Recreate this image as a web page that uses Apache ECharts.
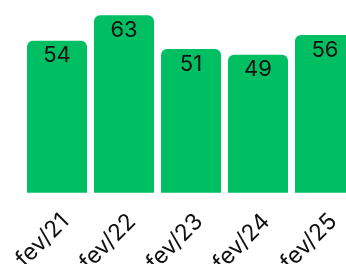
<!DOCTYPE html>
<html>
<head>
    <meta charset="utf-8">
    <script src="https://cdn.jsdelivr.net/npm/echarts@6/dist/echarts.min.js"></script>
    <style>
        html, body { margin: 0; padding: 0; background: #fff; }
        #chart { width: 346px; height: 264px; }
    </style>
</head>
<body>
<div id="chart"></div>
<script>
    // dados
    var categorias = ['fev/21', 'fev/22', 'fev/23', 'fev/24', 'fev/25'];
    var valores = [54, 63, 51, 49, 56];

    var chart = echarts.init(document.getElementById('chart'));
    var option = {
        animation: false,
        // a grade passa da borda direita: a última barra fica cortada
        grid: { left: 23.5, width: 335, top: 15.3, bottom: 71.3, outerBoundsMode: 'none' },
        xAxis: {
            type: 'category',
            data: categorias,
            axisLine: { show: false },
            axisTick: { show: false },
            axisLabel: {
                rotate: 45,
                margin: 17,
                verticalAlign: 'top',
                fontSize: 23,
                fontFamily: 'Inter',
                color: '#111'
            }
        },
        yAxis: {
            type: 'value',
            min: 0,
            max: 'dataMax',
            show: false
        },
        series: [{
            type: 'bar',
            data: valores,
            barWidth: 60,
            itemStyle: { color: '#00BF63', borderRadius: [6, 6, 0, 0] },
            label: {
                show: true,
                position: 'insideTop',
                distance: 4,
                fontSize: 22,
                fontFamily: 'Inter',
                color: '#111'
            }
        }]
    };
    chart.setOption(option);
</script>
</body>
</html>
